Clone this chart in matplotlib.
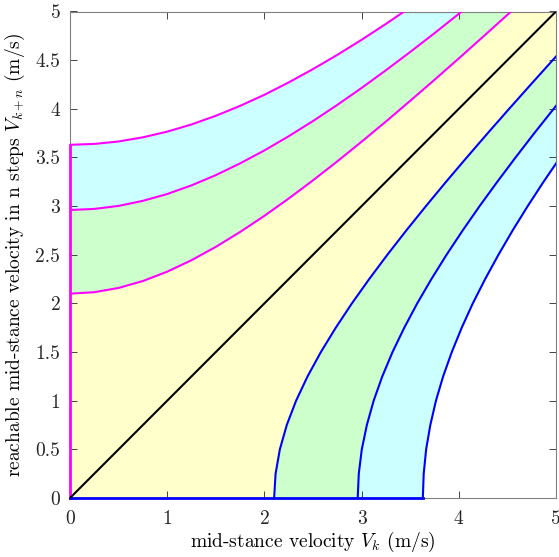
import matplotlib
matplotlib.use("Agg")
import matplotlib.pyplot as plt
from matplotlib.patches import Polygon

plt.rcParams['font.family'] = 'serif'
plt.rcParams['font.serif'] = ['cmr10']
plt.rcParams['mathtext.fontset'] = 'cm'
plt.rcParams['axes.formatter.use_mathtext'] = True

# Velocity grid (m/s) and the three reachable-velocity boundary curves
v_grid = [0.0, 0.25, 0.5, 0.75, 1.0, 1.25, 1.5, 1.75, 2.0, 2.25, 2.5, 2.75,
          3.0, 3.25, 3.5, 3.75, 4.0, 4.25, 4.5, 4.75]
upper_1 = [2.10, 2.115, 2.159, 2.230, 2.326, 2.444, 2.581, 2.734, 2.900, 3.078,
           3.265, 3.460, 3.662, 3.869, 4.082, 4.298, 4.518, 4.741, 4.966, 5.194]
upper_2 = [2.96, 2.971, 3.002, 3.054, 3.124, 3.213, 3.318, 3.439, 3.572, 3.718,
           3.874, 4.040, 4.214, 4.396, 4.584, 4.777, 4.976, 5.179, 5.386, 5.597]
upper_3 = [3.63, 3.639, 3.664, 3.707, 3.765, 3.839, 3.928, 4.030, 4.144, 4.271,
           4.408, 4.554, 4.709, 4.872, 5.043, 5.219, 5.402, 5.589, 5.782, 5.978]
# lower (deceleration) boundaries are the mirror images of the upper ones
bands = [upper_3, upper_2, upper_1]
band_colors = ['#ccffff', '#ccffcc', '#ffffcc']
x_ticks = [0, 1, 2, 3, 4, 5]
y_ticks = [0, 0.5, 1, 1.5, 2, 2.5, 3, 3.5, 4, 4.5, 5]

fig = plt.figure(figsize=(5.59, 5.57), dpi=100)
ax = fig.add_axes([70/559, 59/557, 486/559, 486.5/557])

for up, col in zip(bands, band_colors):
    pts = [(0, 0)]
    pts += list(zip(v_grid, up))
    pts += [(7, 7)]
    pts += list(zip(up, v_grid))[::-1]
    pts += [(0, 0)]
    poly = Polygon(pts, closed=True, facecolor=col, edgecolor='none', zorder=1)
    ax.add_patch(poly)

for up in bands:
    ax.plot(v_grid, up, color='#ff00ff', lw=1.5, zorder=3)
    ax.plot(up, v_grid, color='#0000ff', lw=1.5, zorder=3)

ax.plot([0, 0], [0, upper_3[0]], color='#ff00ff', lw=2.0, zorder=4, clip_on=False)
ax.plot([0, upper_3[0]], [0, 0], color='#0000ff', lw=2.0, zorder=4, clip_on=False)
ax.plot([0, 5], [0, 5], color='black', lw=1.5, zorder=5)

ax.set_xlim(0, 5)
ax.set_ylim(0, 5)
ax.set_xticks(x_ticks)
ax.set_yticks(y_ticks)
ax.set_xticklabels([str(t) for t in x_ticks])
ax.set_yticklabels([('%g' % t) for t in y_ticks])
ax.tick_params(direction='in', top=True, right=True, length=5, width=0.6,
               labelsize=14, colors='#262626')
ax.tick_params(axis='x', pad=9)
ax.tick_params(axis='y', pad=7)
for s in ax.spines.values():
    s.set_color('#808080')
    s.set_linewidth(0.8)

ax.set_xlabel(r'mid-stance velocity $V_k$ (m/s)', fontsize=14, labelpad=1)
ax.set_ylabel(r'reachable mid-stance velocity in n steps $V_{k+n}$ (m/s)', fontsize=14, labelpad=6)

fig.savefig('out.png', dpi=100)
